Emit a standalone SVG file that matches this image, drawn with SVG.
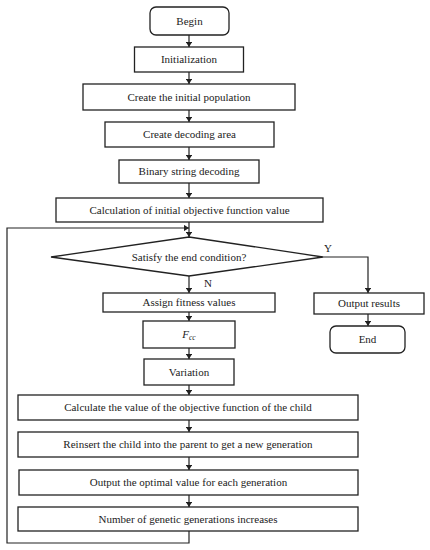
<svg xmlns="http://www.w3.org/2000/svg" width="430" height="550" viewBox="0 0 430 550" font-family="'Liberation Serif','Times New Roman','DejaVu Serif',serif">
<style>
.b{fill:#fff;stroke:#222;stroke-width:1.3}
.t{font-family:'Liberation Serif','Times New Roman','DejaVu Serif',serif;font-size:11px;fill:#222;text-anchor:middle}
.c{fill:none;stroke:#222;stroke-width:1.2}
</style>
<defs>
<marker id="a" viewBox="0 0 8 10" refX="8" refY="5" markerWidth="5" markerHeight="6.5" orient="auto" markerUnits="userSpaceOnUse">
<path d="M0,0L8,5L0,10z" fill="#222"/>
</marker>
</defs>
<rect width="430" height="550" fill="#fff"/>
<g id="connectors">
<line class="c" x1="189" y1="35" x2="189" y2="47" marker-end="url(#a)"/>
<line class="c" x1="189" y1="72" x2="189" y2="84" marker-end="url(#a)"/>
<line class="c" x1="189" y1="110" x2="189" y2="122" marker-end="url(#a)"/>
<line class="c" x1="189" y1="147" x2="189" y2="160" marker-end="url(#a)"/>
<line class="c" x1="189" y1="183" x2="189" y2="198" marker-end="url(#a)"/>
<line class="c" x1="189" y1="222" x2="189" y2="237" marker-end="url(#a)"/>
<line class="c" x1="189" y1="276" x2="189" y2="293" marker-end="url(#a)"/>
<polyline class="c" points="323,257 368,257 368,293" marker-end="url(#a)"/>
<line class="c" x1="368" y1="314" x2="368" y2="326" marker-end="url(#a)"/>
<line class="c" x1="189" y1="312" x2="189" y2="321" marker-end="url(#a)"/>
<line class="c" x1="189" y1="348" x2="189" y2="359" marker-end="url(#a)"/>
<line class="c" x1="189" y1="385" x2="189" y2="395" marker-end="url(#a)"/>
<line class="c" x1="189" y1="420" x2="189" y2="432" marker-end="url(#a)"/>
<line class="c" x1="189" y1="457" x2="189" y2="470" marker-end="url(#a)"/>
<line class="c" x1="189" y1="495" x2="189" y2="507" marker-end="url(#a)"/>
<polyline class="c" points="189,531 189,543 7,543 7,228 189,228" marker-end="url(#a)"/>
<text class="t" x="328" y="252">Y</text>
<text class="t" x="208" y="287">N</text>
</g>
<g id="begin"><rect class="b" x="150" y="7" width="79" height="28" rx="6"/><text class="t" x="189.5" y="24.5">Begin</text></g>
<g id="init"><rect class="b" x="134.5" y="47" width="109" height="25"/><text class="t" x="189" y="63">Initialization</text></g>
<g id="pop"><rect class="b" x="83" y="84" width="212" height="26"/><text class="t" x="189" y="100.5">Create the initial population</text></g>
<g id="area"><rect class="b" x="105" y="122" width="169" height="25"/><text class="t" x="189.5" y="138">Create decoding area</text></g>
<g id="binary"><rect class="b" x="119" y="160" width="140" height="23"/><text class="t" x="189" y="175">Binary string decoding</text></g>
<g id="calc"><rect class="b" x="56" y="198" width="267" height="24"/><text class="t" x="189.5" y="213.5">Calculation of initial objective function value</text></g>
<g id="cond"><polygon class="b" points="189,237 323,257 189,276 51,257"/><text class="t" x="189" y="260.5">Satisfy the end condition?</text></g>
<g id="fitness"><rect class="b" x="103" y="293" width="172" height="19"/><text class="t" x="189" y="306">Assign fitness values</text></g>
<g id="output"><rect class="b" x="314" y="293" width="110" height="21"/><text class="t" x="369" y="307">Output results</text></g>
<g id="end"><rect class="b" x="330" y="326" width="75" height="27" rx="6"/><text class="t" x="367.5" y="343">End</text></g>
<g id="fcc"><rect class="b" x="143" y="321" width="92" height="27"/><text class="t" x="189" y="338" font-style="italic">F<tspan font-size="7.5" dy="1.5">cc</tspan></text></g>
<g id="variation"><rect class="b" x="144" y="359" width="90" height="26"/><text class="t" x="189" y="375.5">Variation</text></g>
<g id="child"><rect class="b" x="18" y="395" width="340" height="25"/><text class="t" x="188" y="411">Calculate the value of the objective function of the child</text></g>
<g id="reinsert"><rect class="b" x="18" y="432" width="340" height="25"/><text class="t" x="188" y="448">Reinsert the child into the parent to get a new generation</text></g>
<g id="optimal"><rect class="b" x="19" y="470" width="339" height="25"/><text class="t" x="188.5" y="486">Output the optimal value for each generation</text></g>
<g id="increase"><rect class="b" x="18" y="507" width="340" height="24"/><text class="t" x="188" y="522.5">Number of genetic generations increases</text></g>
</svg>
